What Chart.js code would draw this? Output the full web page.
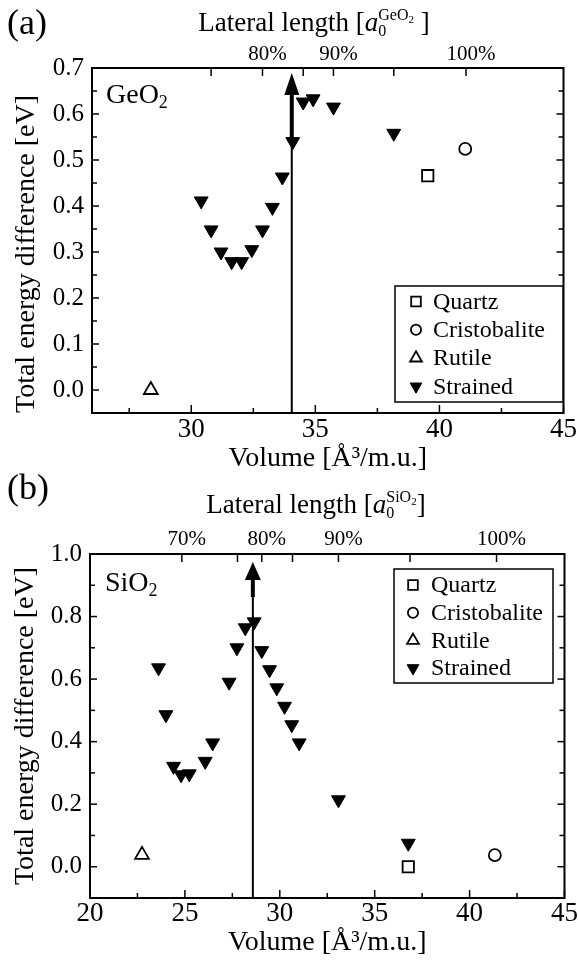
<!DOCTYPE html>
<html>
<head>
<meta charset="utf-8">
<script src="https://cdn.jsdelivr.net/npm/chart.js@4.4.0/dist/chart.umd.min.js"></script>
<style>
  html, body { margin: 0; padding: 0; background: #fff; }
  body { width: 578px; height: 968px; position: relative; overflow: hidden; }
  canvas { position: absolute; left: 0; }
  #chartA { top: 0; }
  #chartB { top: 466px; }
</style>
</head>
<body>
<canvas id="chartA" width="578" height="484"></canvas>
<canvas id="chartB" width="578" height="502"></canvas>
<script>
// ---------- data, panel (a) GeO2 ----------
var quartzA = [{x: 39.53, y: 0.466}];
var cristoA = [{x: 41.04, y: 0.524}];
var rutileA = [{x: 28.37, y: 0.0}];
var strainedVolA = [30.4, 30.8, 31.2, 31.63, 32.03, 32.44, 32.87, 33.27, 33.67, 34.09, 34.51, 34.91, 35.73, 38.16];
var strainedEA   = [0.411, 0.348, 0.300, 0.279, 0.279, 0.305, 0.348, 0.397, 0.463, 0.540, 0.626, 0.633, 0.615, 0.558];
var arrowVolA = 34.05;

var volTicksA = [30, 35, 40, 45];
var volMinorA = [27.5, 32.5, 37.5, 42.5];
var eTicksA = [0, 0.1, 0.2, 0.3, 0.4, 0.5, 0.6, 0.7];
var eMinorA = [0.05, 0.15, 0.25, 0.35, 0.45, 0.55, 0.65];
var latTicksA  = [30.8, 32.87, 34.51, 35.73, 38.16, 41.07];
var latLabelsA = ['', '80%', '', '90%', '', '100%'];

// ---------- data, panel (b) SiO2 ----------
var quartzB = [{x: 36.77, y: 0.0}];
var cristoB = [{x: 41.33, y: 0.037}];
var rutileB = [{x: 22.74, y: 0.038}];
var strainedVolB = [23.61, 24.0, 24.40, 24.80, 25.23, 26.07, 26.46, 27.33, 27.74, 28.18, 28.65, 29.05, 29.46, 29.84, 30.25, 30.63, 31.02, 33.09, 36.77];
var strainedEB   = [0.636, 0.486, 0.321, 0.294, 0.297, 0.337, 0.396, 0.590, 0.700, 0.764, 0.783, 0.691, 0.630, 0.572, 0.513, 0.454, 0.396, 0.214, 0.075];
var arrowVolB = 28.58;

var volTicksB = [20, 25, 30, 35, 40, 45];
var volMinorB = [22.5, 27.5, 32.5, 37.5, 42.5];
var eTicksB = [0, 0.2, 0.4, 0.6, 0.8, 1.0];
var eMinorB = [0.1, 0.3, 0.5, 0.7, 0.9];
var latTicksB  = [24.84, 27.77, 29.05, 30.67, 33.09, 36.86, 41.42];
var latLabelsB = ['70%', '', '80%', '', '90%', '', '100%'];

var serif = '"Liberation Serif", "Times New Roman", serif';

function pts(xs, ys) {
    return xs.map(function (x, i) { return {x: x, y: ys[i]}; });
}

// draws text made of pieces (sub/superscripts), centred on x when center is true
function drawRich(ctx, parts, x, y, center) {
    var w = 0;
    parts.forEach(function (p) {
        ctx.font = (p.i ? 'italic ' : '') + p.s + 'px ' + serif;
        if (!p.keep) w += ctx.measureText(p.t).width;
    });
    if (center) x -= w / 2;
    parts.forEach(function (p) {
        ctx.font = (p.i ? 'italic ' : '') + p.s + 'px ' + serif;
        ctx.fillText(p.t, x, y + (p.dy || 0));
        if (!p.keep) x += ctx.measureText(p.t).width;
    });
}

var frameTicks = {
    id: 'frameTicks',
    afterDraw: function (chart, args, o) {
        var ctx = chart.ctx, a = chart.chartArea;
        var sx = chart.scales.x, sy = chart.scales.y;
        ctx.save();
        ctx.strokeStyle = '#000';
        ctx.lineWidth = 1.5;
        function seg(x1, y1, x2, y2) {
            ctx.beginPath(); ctx.moveTo(x1, y1); ctx.lineTo(x2, y2); ctx.stroke();
        }
        o.xMajor.forEach(function (v) { var p = sx.getPixelForValue(v); seg(p, a.bottom, p, a.bottom - 8); });
        o.xMinor.forEach(function (v) { var p = sx.getPixelForValue(v); seg(p, a.bottom, p, a.bottom - 5); });
        o.top.forEach(function (v) { var p = sx.getPixelForValue(v); seg(p, a.top, p, a.top + 8); });
        o.yMajor.forEach(function (v) {
            var p = sy.getPixelForValue(v);
            seg(a.left, p, a.left + 7, p); seg(a.right, p, a.right - 7, p);
        });
        o.yMinor.forEach(function (v) {
            var p = sy.getPixelForValue(v);
            seg(a.left, p, a.left + 5, p); seg(a.right, p, a.right - 5, p);
        });
        ctx.lineWidth = 2;
        ctx.strokeRect(a.left, a.top, a.right - a.left, a.bottom - a.top);
        ctx.restore();
    }
};

var arrowLine = {
    id: 'arrowLine',
    afterDatasetsDraw: function (chart, args, o) {
        var ctx = chart.ctx, a = chart.chartArea;
        var px = chart.scales.x.getPixelForValue(o.x);
        var tip = a.top + o.gap, base = tip + o.head;
        ctx.save();
        ctx.strokeStyle = '#000';
        ctx.fillStyle = '#000';
        ctx.lineWidth = 2;
        ctx.beginPath(); ctx.moveTo(px, a.bottom); ctx.lineTo(px, base); ctx.stroke();
        ctx.lineWidth = 4;
        ctx.beginPath(); ctx.moveTo(px, base); ctx.lineTo(px, base + o.thick); ctx.stroke();
        ctx.beginPath();
        ctx.moveTo(px, tip);
        ctx.lineTo(px - o.w / 2, base);
        ctx.lineTo(px + o.w / 2, base);
        ctx.closePath();
        ctx.fill();
        ctx.restore();
    }
};

var boxLegend = {
    id: 'boxLegend',
    afterDraw: function (chart, args, o) {
        var ctx = chart.ctx;
        ctx.save();
        ctx.fillStyle = '#fff';
        ctx.fillRect(o.left, o.top, o.width, o.height);
        ctx.strokeStyle = '#000';
        ctx.lineWidth = 1.5;
        ctx.strokeRect(o.left, o.top, o.width, o.height);
        chart.data.datasets.forEach(function (ds, i) {
            var y = o.top + o.first + i * o.rowH;
            ctx.fillStyle = ds.backgroundColor;
            ctx.strokeStyle = ds.borderColor;
            ctx.lineWidth = ds.borderWidth;
            Chart.helpers.drawPoint(ctx, {
                pointStyle: ds.pointStyle, rotation: ds.rotation || 0,
                radius: ds.pointRadius * 0.85, borderWidth: ds.borderWidth
            }, o.markX, y);
            ctx.fillStyle = '#000';
            ctx.font = '24px ' + serif;
            ctx.textBaseline = 'middle';
            ctx.fillText(ds.label, o.textX, y + 1);
        });
        ctx.restore();
    }
};

var panelText = {
    id: 'panelText',
    afterDraw: function (chart, args, o) {
        var ctx = chart.ctx;
        ctx.save();
        ctx.fillStyle = '#000';
        ctx.textBaseline = 'alphabetic';
        ctx.font = '36px ' + serif;
        ctx.fillText(o.tag, 7, o.tagY);
        drawRich(ctx, o.title, o.titleX, o.titleY, true);
        drawRich(ctx, o.material, o.matX, o.matY, false);
        ctx.restore();
    }
};

function makeDatasets(q, c, r, s) {
    return [
        {label: 'Quartz', data: q, pointStyle: 'rect', pointRadius: 8, borderWidth: 1.8,
         borderColor: '#000', backgroundColor: 'rgba(255,255,255,0)'},
        {label: 'Cristobalite', data: c, pointStyle: 'circle', pointRadius: 6, borderWidth: 1.8,
         borderColor: '#000', backgroundColor: 'rgba(255,255,255,0)'},
        {label: 'Rutile', data: r, pointStyle: 'triangle', pointRadius: 8, borderWidth: 1.8,
         borderColor: '#000', backgroundColor: 'rgba(255,255,255,0)'},
        {label: 'Strained', data: s, pointStyle: 'triangle', rotation: 180, pointRotation: 180,
         pointRadius: 8, borderWidth: 1, borderColor: '#000', backgroundColor: '#000'}
    ];
}

function makeChart(id, cfg) {
    return new Chart(document.getElementById(id), {
        type: 'scatter',
        data: {datasets: cfg.datasets},
        options: {
            responsive: false,
            animation: false,
            layout: {padding: {left: 0, right: 13, top: 0, bottom: 0}},
            plugins: {
                legend: {display: false},
                tooltip: {enabled: false},
                frameTicks: {xMajor: cfg.volTicks, xMinor: cfg.volMinor, top: cfg.latTicks,
                             yMajor: cfg.eTicks, yMinor: cfg.eMinor},
                arrowLine: cfg.arrow,
                boxLegend: cfg.legend,
                panelText: cfg.text
            },
            scales: {
                x: {
                    type: 'linear', position: 'bottom', min: cfg.xMin, max: 45,
                    afterBuildTicks: function (s) { s.ticks = cfg.volTicks.map(function (v) { return {value: v}; }); },
                    afterFit: function (s) { s.height = cfg.bottomH; },
                    grid: {display: false, drawTicks: false},
                    border: {display: false},
                    ticks: {font: {family: serif, size: 27}, color: '#000', padding: cfg.xPad,
                            maxRotation: 0, autoSkip: false},
                    title: {display: true, text: 'Volume [Å³/m.u.]', color: '#000',
                            font: {family: serif, size: 28, lineHeight: 1},
                            padding: {top: 0, bottom: cfg.xTitlePad}}
                },
                x2: {
                    type: 'linear', position: 'top', min: cfg.xMin, max: 45,
                    afterBuildTicks: function (s) { s.ticks = cfg.latTicks.map(function (v) { return {value: v}; }); },
                    afterFit: function (s) { s.height = cfg.topH; },
                    grid: {display: false, drawTicks: false},
                    border: {display: false},
                    ticks: {font: {family: serif, size: 21}, color: '#000', padding: cfg.topPad, labelOffset: 5,
                            maxRotation: 0, autoSkip: false,
                            callback: function (v, i) { return cfg.latLabels[i]; }}
                },
                y: {
                    type: 'linear', position: 'left', min: cfg.yMin, max: cfg.yMax,
                    afterBuildTicks: function (s) { s.ticks = cfg.eTicks.map(function (v) { return {value: v}; }); },
                    afterFit: function (s) { s.width = cfg.leftW; },
                    grid: {display: false, drawTicks: false},
                    border: {display: false},
                    ticks: {font: {family: serif, size: 25}, color: '#000', padding: 8,
                            callback: function (v) { return Number(v).toFixed(1); }},
                    title: {display: true, text: 'Total energy difference [eV]', color: '#000',
                            align: cfg.yTitleAlign,
                            font: {family: serif, size: 28, lineHeight: 1},
                            padding: {top: cfg.yTitlePad, bottom: 0}}
                }
            }
        },
        plugins: [frameTicks, arrowLine, boxLegend, panelText]
    });
}

makeChart('chartA', {
    datasets: makeDatasets(quartzA, cristoA, rutileA, pts(strainedVolA, strainedEA)),
    xMin: 26, yMin: -0.05, yMax: 0.7,
    volTicks: volTicksA, volMinor: volMinorA, eTicks: eTicksA, eMinor: eMinorA,
    latTicks: latTicksA, latLabels: latLabelsA,
    bottomH: 71, topH: 68, leftW: 92, xPad: 1, xTitlePad: 11, topPad: 1, yTitlePad: 13, yTitleAlign: 'start',
    arrow: {x: arrowVolA, gap: 5, head: 22, w: 15, thick: 48},
    legend: {left: 395, top: 286, width: 168, height: 116, first: 15.5, rowH: 28.3, markX: 416, textX: 433},
    text: {
        tag: '(a)', tagY: 34,
        title: [{t: 'Lateral length [', s: 27}, {t: 'a', s: 27, i: true},
                {t: '0', s: 16, dy: 5, keep: true}, {t: 'GeO', s: 16, dy: -11}, {t: '2', s: 11, dy: -8},
                {t: ' ]', s: 27}],
        titleX: 314, titleY: 31,
        material: [{t: 'GeO', s: 28}, {t: '2', s: 18, dy: 5}],
        matX: 106, matY: 103
    }
});

makeChart('chartB', {
    datasets: makeDatasets(quartzB, cristoB, rutileB, pts(strainedVolB, strainedEB)),
    xMin: 20, yMin: -0.1, yMax: 1.0,
    volTicks: volTicksB, volMinor: volMinorB, eTicks: eTicksB, eMinor: eMinorB,
    latTicks: latTicksB, latLabels: latLabelsB,
    bottomH: 70, topH: 88, leftW: 90, xPad: 0, xTitlePad: 11, topPad: 1.5, yTitlePad: 12, yTitleAlign: 'center',
    arrow: {x: arrowVolB, gap: 8, head: 18, w: 16, thick: 17},
    legend: {left: 394, top: 103, width: 159, height: 114, first: 16, rowH: 27.7, markX: 413, textX: 431},
    text: {
        tag: '(b)', tagY: 33,
        title: [{t: 'Lateral length [', s: 27}, {t: 'a', s: 27, i: true},
                {t: '0', s: 16, dy: 5, keep: true}, {t: 'SiO', s: 16, dy: -11}, {t: '2', s: 11, dy: -8},
                {t: ']', s: 27}],
        titleX: 316, titleY: 47,
        material: [{t: 'SiO', s: 28}, {t: '2', s: 18, dy: 5}],
        matX: 105, matY: 125
    }
});
</script>
</body>
</html>
